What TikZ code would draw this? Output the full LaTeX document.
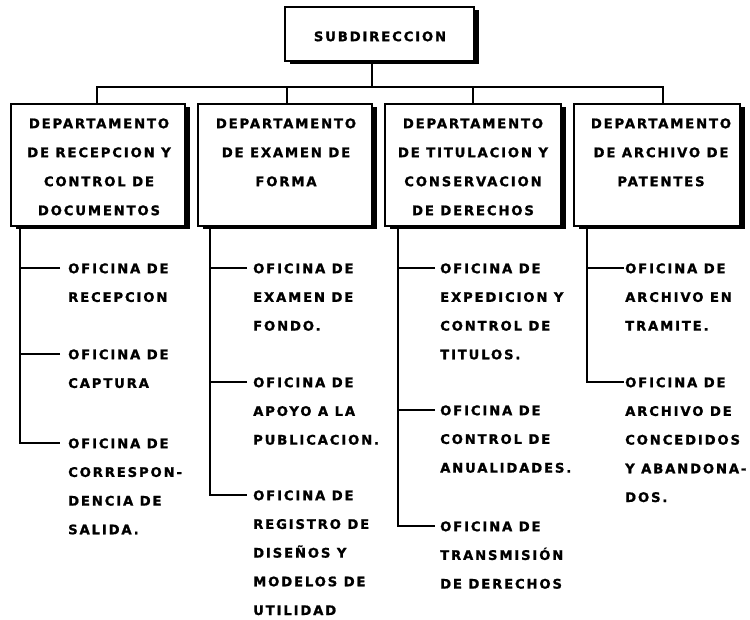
\documentclass[tikz,border=0pt]{standalone}
\usepackage{fontspec}
\newfontfamily\orgfont[LetterSpace=14, FakeBold=1.2]{DejaVu Sans}
\usetikzlibrary{shadows}
\begin{document}
\begin{tikzpicture}[x=1pt,y=-1pt,
  box/.style={draw, line width=1.3pt, fill=white, inner sep=0pt,
    general shadow={fill=black, shadow xshift=5pt, shadow yshift=-2.5pt}},
  lbl/.style={font=\orgfont\bfseries\fontsize{13.2}{29}\selectfont, inner sep=0pt, align=center, anchor=north},
  office/.style={font=\orgfont\bfseries\fontsize{13.2}{28.7}\selectfont, inner sep=0pt, align=left, anchor=north west},
  conn/.style={line width=1.2pt}]
\useasboundingbox (0,0) rectangle (750,619);
% boxes
\node[box, minimum width=189pt, minimum height=54pt] (sub) at (379.5,34) {};
\node[box, minimum width=174pt, minimum height=122pt] (d1) at (98,165) {};
\node[box, minimum width=174pt, minimum height=122pt] (d2) at (285,165) {};
\node[box, minimum width=176pt, minimum height=122pt] (d3) at (473,165) {};
\node[box, minimum width=166pt, minimum height=122pt] (d4) at (657,165) {};
% box texts
\node[lbl] (t0) at (380,31.2) {SUBDIRECCION};
\node[lbl] (t1) at (99,118.2) {DEPARTAMENTO\\DE RECEPCION Y\\CONTROL DE\\DOCUMENTOS};
\node[lbl] (t2) at (286,118.2) {DEPARTAMENTO\\DE EXAMEN DE\\FORMA};
\node[lbl] (t3) at (473,118.2) {DEPARTAMENTO\\DE TITULACION Y\\CONSERVACION\\DE DERECHOS};
\node[lbl] (t4) at (661,118.2) {DEPARTAMENTO\\DE ARCHIVO DE\\PATENTES};
% top connectors
\coordinate (bus) at (372,87);
\draw[conn] (sub.south -| bus) -- (bus);
\draw[conn] (bus) -| ([xshift=-1pt]d1.north);
\draw[conn] (bus) -| ([xshift=2pt]d2.north);
\draw[conn] (bus) -| (d3.north);
\draw[conn] (bus) -| ([xshift=6pt]d4.north);
% offices column 1
\node[office] (o11) at (68,263.2) {OFICINA DE\\RECEPCION};
\node[office] (o12) at (68,349.2) {OFICINA DE\\CAPTURA};
\node[office] (o13) at (68,438.2) {OFICINA DE\\CORRESPON-\\DENCIA DE\\SALIDA.};
% column 2
\node[office] (o21) at (253,263.2) {OFICINA DE\\EXAMEN DE\\FONDO.};
\node[office] (o22) at (253,377.2) {OFICINA DE\\APOYO A LA\\PUBLICACION.};
\node[office] (o23) at (253,490.2) {OFICINA DE\\REGISTRO DE\\DISEÑOS Y\\MODELOS DE\\UTILIDAD};
% column 3
\node[office] (o31) at (440,263.2) {OFICINA DE\\EXPEDICION Y\\CONTROL DE\\TITULOS.};
\node[office] (o32) at (440,405.2) {OFICINA DE\\CONTROL DE\\ANUALIDADES.};
\node[office] (o33) at (440,521.2) {OFICINA DE\\TRANSMISIÓN\\DE DERECHOS};
% column 4
\node[office] (o41) at (625,263.2) {OFICINA DE\\ARCHIVO EN\\TRAMITE.};
\node[office] (o42) at (625,377.2) {OFICINA DE\\ARCHIVO DE\\CONCEDIDOS\\Y ABANDONA-\\DOS.};
% office connectors
\draw[conn] (d1.south -| 20,0) |- ([xshift=-8pt,yshift=-4.8pt]o13.north west);
\draw[conn] ([xshift=-8pt,yshift=-4.8pt]o11.north west) -- +(-40,0);
\draw[conn] ([xshift=-8pt,yshift=-4.8pt]o12.north west) -- +(-40,0);
\draw[conn] (d2.south -| 210,0) |- ([xshift=-6pt,yshift=-4.8pt]o23.north west);
\draw[conn] ([xshift=-6pt,yshift=-4.8pt]o21.north west) -- +(-37,0);
\draw[conn] ([xshift=-6pt,yshift=-4.8pt]o22.north west) -- +(-37,0);
\draw[conn] (d3.south -| 398,0) |- ([xshift=-5pt,yshift=-4.8pt]o33.north west);
\draw[conn] ([xshift=-5pt,yshift=-4.8pt]o31.north west) -- +(-37,0);
\draw[conn] ([xshift=-5pt,yshift=-4.8pt]o32.north west) -- +(-37,0);
\draw[conn] (d4.south -| 587,0) |- ([xshift=-1pt,yshift=-4.8pt]o42.north west);
\draw[conn] ([xshift=-1pt,yshift=-4.8pt]o41.north west) -- +(-37,0);
\end{tikzpicture}
\end{document}
